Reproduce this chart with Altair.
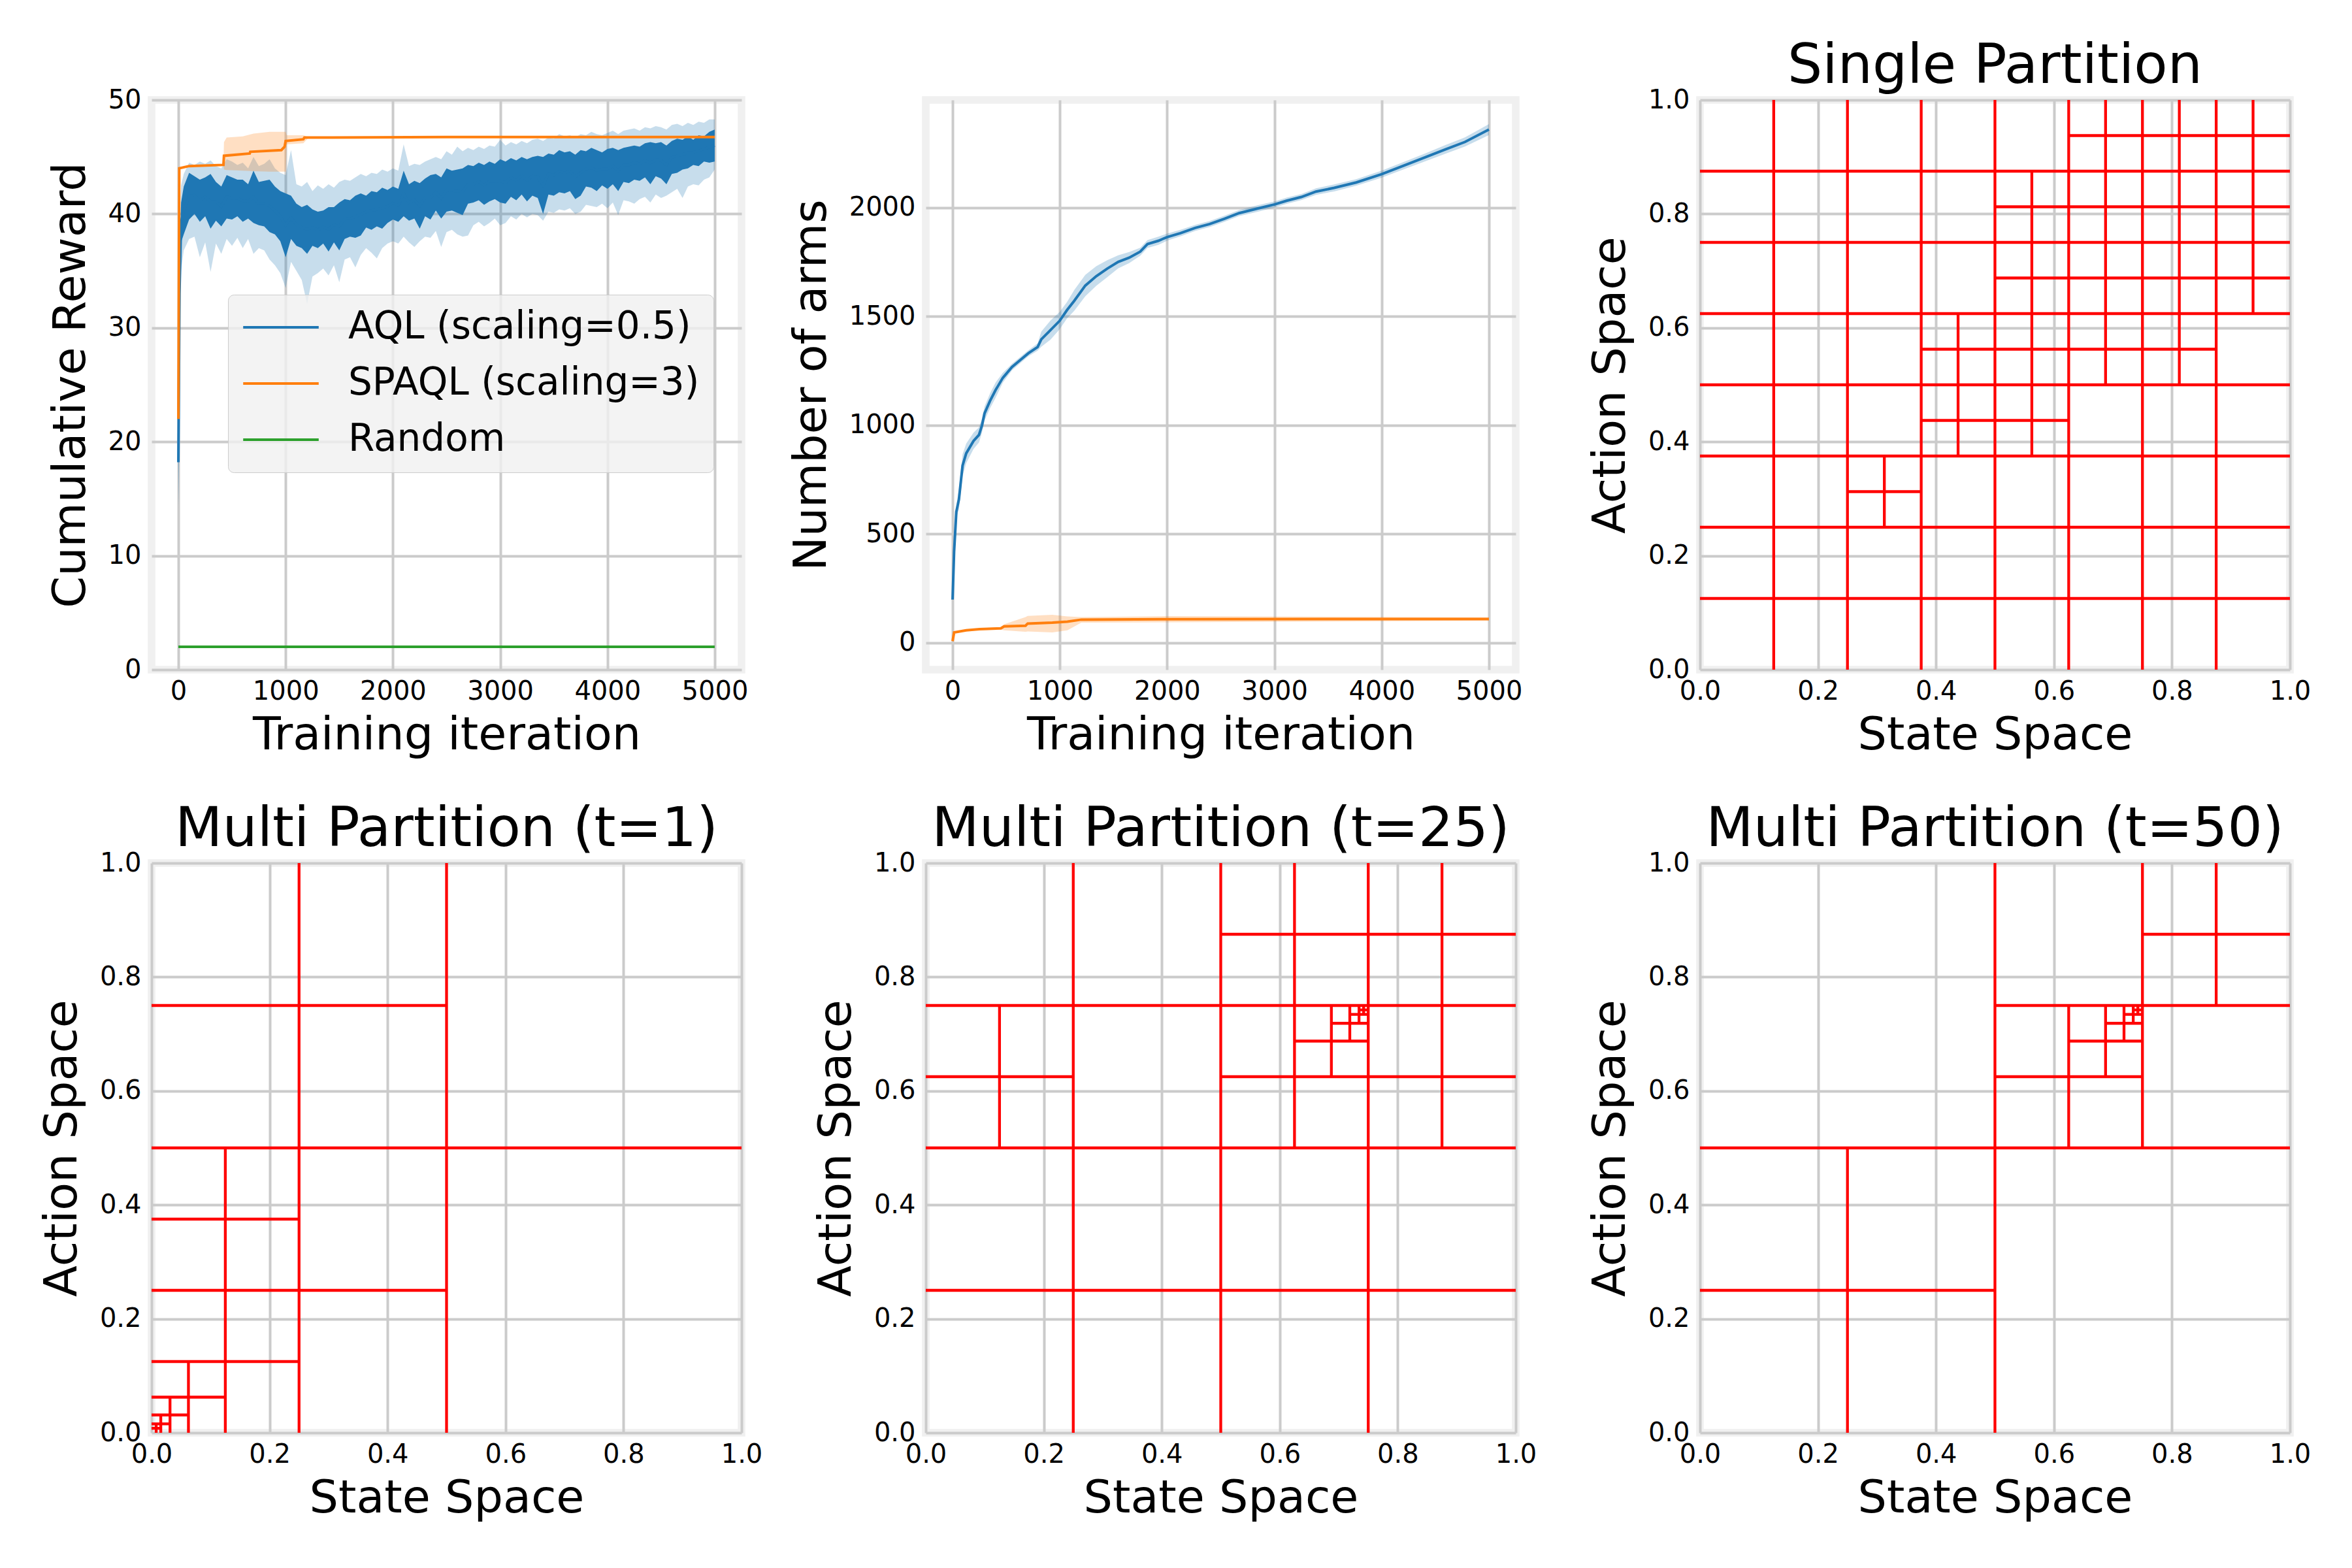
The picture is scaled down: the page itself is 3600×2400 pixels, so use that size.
import altair as alt
import pandas as pd

FONT = "DejaVu Sans"
BLUE, ORANGE, GREEN, RED = "#1f77b4", "#ff7f0e", "#2ca02c", "#ff0000"
SERIES = ["AQL (scaling=0.5)", "SPAQL (scaling=3)", "Random"]
W, H = 903, 872

# ---------------- Panel 1: cumulative reward ----------------
AQL_X = [0, 10, 25] + list(range(50, 5001, 50))
AQL_HI = [22.0, 36.0, 41.0,
          42.4, 43.6, 43.3, 43.0, 43.2, 43.5, 42.8, 42.4, 43.4, 43.2,
          43.0, 43.0, 42.6, 43.8, 42.8, 42.9, 43.0, 42.4, 42.0, 41.8,
          41.6, 40.9, 40.6, 40.8, 40.4, 40.2, 40.3, 40.6, 40.6, 41.0,
          41.3, 41.2, 41.6, 41.8, 41.6, 42.0, 41.9, 42.3, 42.1, 42.4,
          42.2, 43.8, 42.6, 42.9, 42.7, 43.1, 43.4, 43.5, 43.2, 44.0,
          43.8, 43.9, 44.0, 44.3, 44.2, 44.5, 44.3, 44.6, 44.4, 44.8,
          44.6, 44.9, 44.7, 45.0, 44.8, 45.0, 45.1, 45.0, 45.3, 45.2,
          45.6, 45.4, 45.5, 45.2, 45.6, 45.5, 45.8, 45.6, 45.4, 45.7,
          45.8, 45.6, 45.8, 45.9, 46.0, 45.9, 46.2, 46.3, 46.2, 46.3,
          46.0, 46.4, 46.6, 46.5, 46.8, 46.5, 46.9, 46.8, 47.2, 47.4]
AQL_LO = [14.4, 30.0, 37.5,
          38.2, 39.5, 40.0, 39.3, 39.8, 38.7, 39.4, 38.9, 39.6, 39.5,
          39.8, 39.3, 39.6, 39.2, 39.0, 38.9, 38.4, 38.2, 37.6, 36.2,
          37.8, 37.2, 37.0, 36.5, 37.2, 37.0, 37.4, 36.7, 37.5, 36.8,
          37.8, 38.0, 37.9, 38.1, 38.8, 38.6, 38.9, 38.7, 39.2, 39.5,
          39.3, 39.8, 39.4, 39.6, 38.7, 39.8, 39.5, 40.3, 39.6, 40.2,
          40.3, 40.1, 39.9, 40.9, 41.0, 41.2, 40.8, 41.1, 41.3, 41.0,
          40.9, 41.5, 41.2, 41.7, 41.1, 41.6, 41.4, 40.0, 41.7, 41.6,
          41.9, 41.8, 42.0, 41.3, 41.6, 42.4, 42.3, 42.0, 42.5, 42.2,
          42.6, 42.0, 42.8, 42.7, 43.0, 42.9, 43.2, 42.6, 43.3, 43.1,
          42.6, 43.5, 43.6, 43.9, 44.0, 44.3, 44.2, 44.6, 44.5, 44.6]
AQL_CI_HI = [22.5, 37.5, 42.5,
             43.5, 44.5, 44.3, 44.6, 44.4, 44.7, 44.2, 44.0, 44.8, 44.6,
             44.3, 44.5, 44.0, 45.0, 44.2, 44.4, 44.8, 44.0, 43.6, 43.4,
             45.6, 42.6, 42.4, 42.8, 42.0, 42.5, 42.2, 42.6, 42.3, 42.8,
             43.0, 42.9, 43.2, 43.5, 43.3, 43.6, 43.5, 43.9, 43.7, 44.0,
             43.8, 46.1, 44.2, 44.4, 44.3, 44.6, 44.8, 45.0, 44.8, 45.5,
             45.2, 45.9, 45.5, 45.8, 45.6, 45.9, 45.7, 46.0, 45.9, 46.5,
             46.0, 46.3, 46.1, 46.4, 46.2, 46.5, 46.6, 46.4, 46.7, 46.6,
             47.0, 46.8, 46.9, 46.7, 47.0, 46.9, 47.2, 47.0, 46.9, 47.1,
             47.3, 47.0, 47.3, 47.4, 47.5, 47.3, 47.6, 47.5, 47.7, 47.6,
             47.4, 47.8, 47.9, 47.7, 48.0, 47.8, 48.1, 48.0, 48.3, 48.3]
AQL_CI_LO = [14.0, 27.0, 35.0,
             36.8, 37.8, 38.0, 36.2, 37.5, 34.9, 37.4, 36.5, 37.8, 37.2,
             37.9, 37.0, 37.8, 36.5, 37.0, 36.8, 36.0, 35.5, 34.8, 33.5,
             35.8, 35.0, 34.2, 32.1, 34.5, 34.8, 35.2, 34.6, 35.5, 34.0,
             36.0, 36.2, 35.3, 36.4, 37.0, 36.6, 36.1, 37.0, 37.4, 37.6,
             37.4, 38.0, 37.5, 37.1, 37.6, 38.0, 37.9, 38.5, 37.1, 38.4,
             38.6, 38.2, 38.0, 38.1, 39.0, 39.3, 38.9, 39.2, 39.6, 39.0,
             39.2, 39.8, 39.5, 40.0, 39.7, 40.0, 39.9, 39.4, 40.2, 40.1,
             40.4, 40.3, 40.5, 40.0, 40.2, 40.8, 40.7, 40.6, 40.9, 40.5,
             41.0, 39.9, 41.2, 41.1, 40.9, 41.3, 41.5, 41.0, 41.7, 41.4,
             41.6, 41.9, 42.2, 41.4, 42.4, 42.6, 42.5, 43.0, 43.2, 43.9]

SP_X = [0, 8, 100, 420, 425, 665, 670, 960, 990, 1000, 1165, 1175, 2500, 5000]
SP_Y = [22.0, 44.0, 44.2, 44.3, 45.1, 45.3, 45.45, 45.6, 45.9, 46.4, 46.55, 46.7, 46.75, 46.75]
SP_BAND_X = [420, 425, 450, 600, 700, 850, 1000, 1010, 1165, 1210]
SP_BAND_HI = [44.35, 46.3, 46.7, 46.8, 47.05, 47.2, 47.2, 46.9, 46.9, 46.75]
SP_BAND_LO = [44.25, 43.9, 43.85, 43.8, 43.75, 43.7, 43.7, 46.1, 46.2, 46.65]

RAND_X = [0, 1000, 2000, 3000, 4000, 5000]
RAND_Y = [2.0, 2.0, 2.0, 2.0, 2.0, 2.0]

# ---------------- Panel 2: number of arms ----------------
ARMS_AQL_X = [0, 14, 35, 59, 93, 127, 195, 246, 274, 298, 349, 400, 468, 554, 639, 707,
              793, 827, 912, 998, 1066, 1134, 1237, 1339, 1442, 1544, 1646, 1749, 1817,
              1919, 2001, 2124, 2261, 2397, 2534, 2671, 2841, 3002, 3114, 3251, 3388,
              3558, 3763, 3995, 4404, 4591, 4777, 5000]
ARMS_AQL_Y = [198, 418, 602, 658, 814, 870, 927, 955, 998, 1054, 1111, 1160, 1217, 1267,
              1302, 1330, 1359, 1394, 1436, 1479, 1528, 1571, 1641, 1684, 1719, 1750,
              1769, 1797, 1832, 1847, 1864, 1882, 1906, 1924, 1948, 1974, 1995, 2014,
              2031, 2048, 2073, 2090, 2115, 2152, 2230, 2266, 2301, 2358]
ARMS_AQL_HI = [200, 430, 630, 705, 865, 915, 965, 990, 1030, 1085, 1145, 1195, 1240, 1282,
               1316, 1344, 1376, 1430, 1480, 1520, 1565, 1620, 1690, 1730, 1758, 1780,
               1795, 1815, 1850, 1866, 1880, 1897, 1920, 1938, 1962, 1988, 2010, 2028,
               2045, 2062, 2088, 2106, 2130, 2168, 2248, 2286, 2322, 2383]
ARMS_AQL_LO = [196, 405, 575, 612, 765, 825, 890, 920, 965, 1022, 1077, 1125, 1195, 1252,
               1288, 1316, 1342, 1360, 1392, 1440, 1490, 1525, 1592, 1640, 1680, 1720,
               1744, 1778, 1814, 1828, 1848, 1867, 1892, 1910, 1934, 1960, 1980, 2000,
               2017, 2034, 2058, 2074, 2100, 2136, 2212, 2246, 2280, 2333]

ARMS_SP_X = [0, 14, 127, 250, 450, 480, 680, 700, 930, 1070, 1200, 2000, 5000]
ARMS_SP_Y = [7, 47, 57, 62, 66, 75, 78, 88, 92, 97, 106, 108, 109]
ARMS_SP_HI = [7, 49, 60, 66, 72, 85, 118, 123, 128, 121, 118, 122, 117]
ARMS_SP_LO = [7, 45, 54, 58, 60, 57, 50, 52, 47, 57, 92, 94, 101]

# ---------------- Partitions: (position, from, to) ----------------
SINGLE_V = [(0.125, 0, 1), (0.25, 0, 1), (0.375, 0, 1), (0.5, 0, 1), (0.625, 0, 1),
            (0.75, 0, 1), (0.875, 0, 1), (0.5625, 0.375, 0.875), (0.6875, 0.5, 1),
            (0.8125, 0.5, 1), (0.9375, 0.625, 1), (0.4375, 0.375, 0.625),
            (0.3125, 0.25, 0.375)]
SINGLE_H = [(0.125, 0, 1), (0.25, 0, 1), (0.375, 0, 1), (0.5, 0, 1), (0.625, 0, 1),
            (0.75, 0, 1), (0.875, 0, 1), (0.9375, 0.625, 1), (0.8125, 0.5, 1),
            (0.6875, 0.5, 1), (0.5625, 0.375, 0.875), (0.4375, 0.375, 0.625),
            (0.3125, 0.25, 0.375)]
T1_V = [(0.25, 0, 1), (0.5, 0, 1), (0.125, 0, 0.5), (0.0625, 0, 0.125),
        (0.03125, 0, 0.0625), (0.015625, 0, 0.03125), (0.0078125, 0, 0.015625)]
T1_H = [(0.75, 0, 0.5), (0.5, 0, 1), (0.375, 0, 0.25), (0.25, 0, 0.5), (0.125, 0, 0.25),
        (0.0625, 0, 0.125), (0.03125, 0, 0.0625), (0.015625, 0, 0.03125),
        (0.0078125, 0, 0.015625)]
T25_V = [(0.25, 0, 1), (0.5, 0, 1), (0.75, 0, 1), (0.625, 0.5, 1), (0.875, 0.5, 1),
         (0.125, 0.5, 0.75), (0.6875, 0.625, 0.75), (0.71875, 0.6875, 0.75),
         (0.734375, 0.71875, 0.75), (0.7421875, 0.734375, 0.75)]
T25_H = [(0.75, 0, 1), (0.5, 0, 1), (0.25, 0, 1), (0.875, 0.5, 1), (0.625, 0, 0.25),
         (0.625, 0.5, 1), (0.6875, 0.625, 0.75), (0.71875, 0.6875, 0.75),
         (0.734375, 0.71875, 0.75), (0.7421875, 0.734375, 0.75)]
T50_V = [(0.25, 0, 0.5), (0.5, 0, 1), (0.625, 0.5, 0.75), (0.75, 0.5, 1), (0.875, 0.75, 1),
         (0.6875, 0.625, 0.75), (0.71875, 0.6875, 0.75), (0.734375, 0.71875, 0.75),
         (0.7421875, 0.734375, 0.75)]
T50_H = [(0.5, 0, 1), (0.25, 0, 0.5), (0.75, 0.5, 1), (0.875, 0.75, 1), (0.625, 0.5, 0.75),
         (0.6875, 0.625, 0.75), (0.71875, 0.6875, 0.75), (0.734375, 0.71875, 0.75),
         (0.7421875, 0.734375, 0.75)]

ITER_TICKS = [0, 1000, 2000, 3000, 4000, 5000]
UNIT_TICKS = [0.0, 0.2, 0.4, 0.6, 0.8, 1.0]

color_scale = alt.Scale(domain=SERIES, range=[BLUE, ORANGE, GREEN])


def xenc(field, title):
    return alt.X(field, type="quantitative",
                 scale=alt.Scale(domain=[-250, 5250], nice=False, zero=False),
                 axis=alt.Axis(values=ITER_TICKS, format="d", title=title))


# ---- panel 1
df_aql = pd.DataFrame({"x": AQL_X, "hi": AQL_HI, "lo": AQL_LO,
                       "chi": AQL_CI_HI, "clo": AQL_CI_LO})
df_aql["y"] = (df_aql["hi"] + df_aql["lo"]) / 2
df_aql["series"] = SERIES[0]
df_sp = pd.DataFrame({"x": SP_X, "y": SP_Y, "series": SERIES[1]})
df_rand = pd.DataFrame({"x": RAND_X, "y": RAND_Y, "series": SERIES[2]})
df_lines1 = pd.concat([df_aql[["x", "y", "series"]], df_sp, df_rand], ignore_index=True)
df_spband = pd.DataFrame({"x": SP_BAND_X, "hi": SP_BAND_HI, "lo": SP_BAND_LO})

y1_scale = alt.Scale(domain=[0, 50], nice=False, zero=False)
y1_axis = alt.Axis(values=[0, 10, 20, 30, 40, 50], format="d", title="Cumulative Reward")
X1 = xenc("x", "Training iteration")

p1_ci = alt.Chart(df_aql).mark_area(color=BLUE, opacity=0.25).encode(
    x=X1, y=alt.Y("clo:Q", scale=y1_scale, axis=y1_axis), y2="chi:Q")
p1_dark = alt.Chart(df_aql).mark_area(color=BLUE, opacity=1).encode(
    x=X1, y=alt.Y("lo:Q", scale=y1_scale, axis=y1_axis), y2="hi:Q")
p1_spci = alt.Chart(df_spband).mark_area(color=ORANGE, opacity=0.25).encode(
    x=X1, y=alt.Y("lo:Q", scale=y1_scale, axis=y1_axis), y2="hi:Q")
p1_lines = alt.Chart(df_lines1).mark_line(strokeWidth=4).encode(
    x=X1, y=alt.Y("y:Q", scale=y1_scale, axis=y1_axis),
    color=alt.Color("series:N", scale=color_scale, sort=SERIES,
                    legend=alt.Legend(title=None, orient="none", legendX=117, legendY=298,
                                      labelFont=FONT, labelFontSize=58, labelColor="black",
                                      labelLimit=0, symbolType="stroke", symbolSize=13360,
                                      symbolStrokeWidth=4, labelOffset=43, rowPadding=28,
                                      clipHeight=58, padding=21,
                                      fillColor="rgba(240,240,240,0.8)",
                                      strokeColor="#cccccc", cornerRadius=9)))
panel1 = alt.layer(p1_ci, p1_dark, p1_spci, p1_lines).properties(width=W, height=H)

# ---- panel 2
df_arms_aql = pd.DataFrame({"x": ARMS_AQL_X, "y": ARMS_AQL_Y, "hi": ARMS_AQL_HI,
                            "lo": ARMS_AQL_LO, "series": SERIES[0]})
df_arms_sp = pd.DataFrame({"x": ARMS_SP_X, "y": ARMS_SP_Y, "hi": ARMS_SP_HI,
                           "lo": ARMS_SP_LO, "series": SERIES[1]})
df_arms = pd.concat([df_arms_aql, df_arms_sp], ignore_index=True)
y2_scale = alt.Scale(domain=[-124, 2494], nice=False, zero=False)
y2_axis = alt.Axis(values=[0, 500, 1000, 1500, 2000], format="d", title="Number of arms")
p2_band = alt.Chart(df_arms).mark_area(opacity=0.25).encode(
    x=X1, y=alt.Y("lo:Q", scale=y2_scale, axis=y2_axis), y2="hi:Q",
    color=alt.Color("series:N", scale=color_scale, legend=None))
p2_lines = alt.Chart(df_arms).mark_line(strokeWidth=4).encode(
    x=X1, y=alt.Y("y:Q", scale=y2_scale, axis=y2_axis),
    color=alt.Color("series:N", scale=color_scale, legend=None))
panel2 = alt.layer(p2_band, p2_lines).properties(width=W, height=H)


# ---- partitions
def segments(vert, horiz):
    rows = []
    for x, a, b in vert:
        rows.append({"x1": x, "x2": x, "y1": a, "y2": b})
    for y, a, b in horiz:
        rows.append({"x1": a, "x2": b, "y1": y, "y2": y})
    return pd.DataFrame(rows)


def partition(vert, horiz, title):
    unit = alt.Scale(domain=[0, 1], nice=False, zero=False)
    return alt.Chart(segments(vert, horiz)).mark_rule(color=RED, strokeWidth=4.3).encode(
        x=alt.X("x1:Q", scale=unit,
                axis=alt.Axis(values=UNIT_TICKS, format=".1f", title="State Space")),
        x2="x2:Q",
        y=alt.Y("y1:Q", scale=unit,
                axis=alt.Axis(values=UNIT_TICKS, format=".1f", title="Action Space")),
        y2="y2:Q",
    ).properties(width=W, height=H, title=title)


panel3 = partition(SINGLE_V, SINGLE_H, "Single Partition")
panel4 = partition(T1_V, T1_H, "Multi Partition (t=1)")
panel5 = partition(T25_V, T25_H, "Multi Partition (t=25)")
panel6 = partition(T50_V, T50_H, "Multi Partition (t=50)")

chart = alt.concat(panel1, panel2, panel3, panel4, panel5, panel6, columns=3,
                   spacing={"row": 296, "column": 282}, bounds="flush").properties(
    padding={"left": 46, "top": 46, "right": 5, "bottom": 5},
    background="white",
).configure_view(
    stroke="#f0f0f0", strokeWidth=11.5, fill="white"
).configure_axis(
    labelFont=FONT, labelFontSize=40, labelColor="black",
    titleFont=FONT, titleFontSize=70, titleFontWeight="normal", titleColor="black",
    domain=False, ticks=False, tickSize=0, gridColor="#cbcbcb", gridWidth=4,
    labelOverlap=False, labelFlush=False, labelBound=False,
).configure_axisX(
    labelPadding=13, titlePadding=13
).configure_axisY(
    labelPadding=16, titlePadding=21
).configure_title(
    font=FONT, fontSize=84, fontWeight="normal", color="black", anchor="middle",
    frame="group", baseline="alphabetic", offset=-12
)

chart.save("out.html", embed_options={"renderer": "svg", "actions": False})
